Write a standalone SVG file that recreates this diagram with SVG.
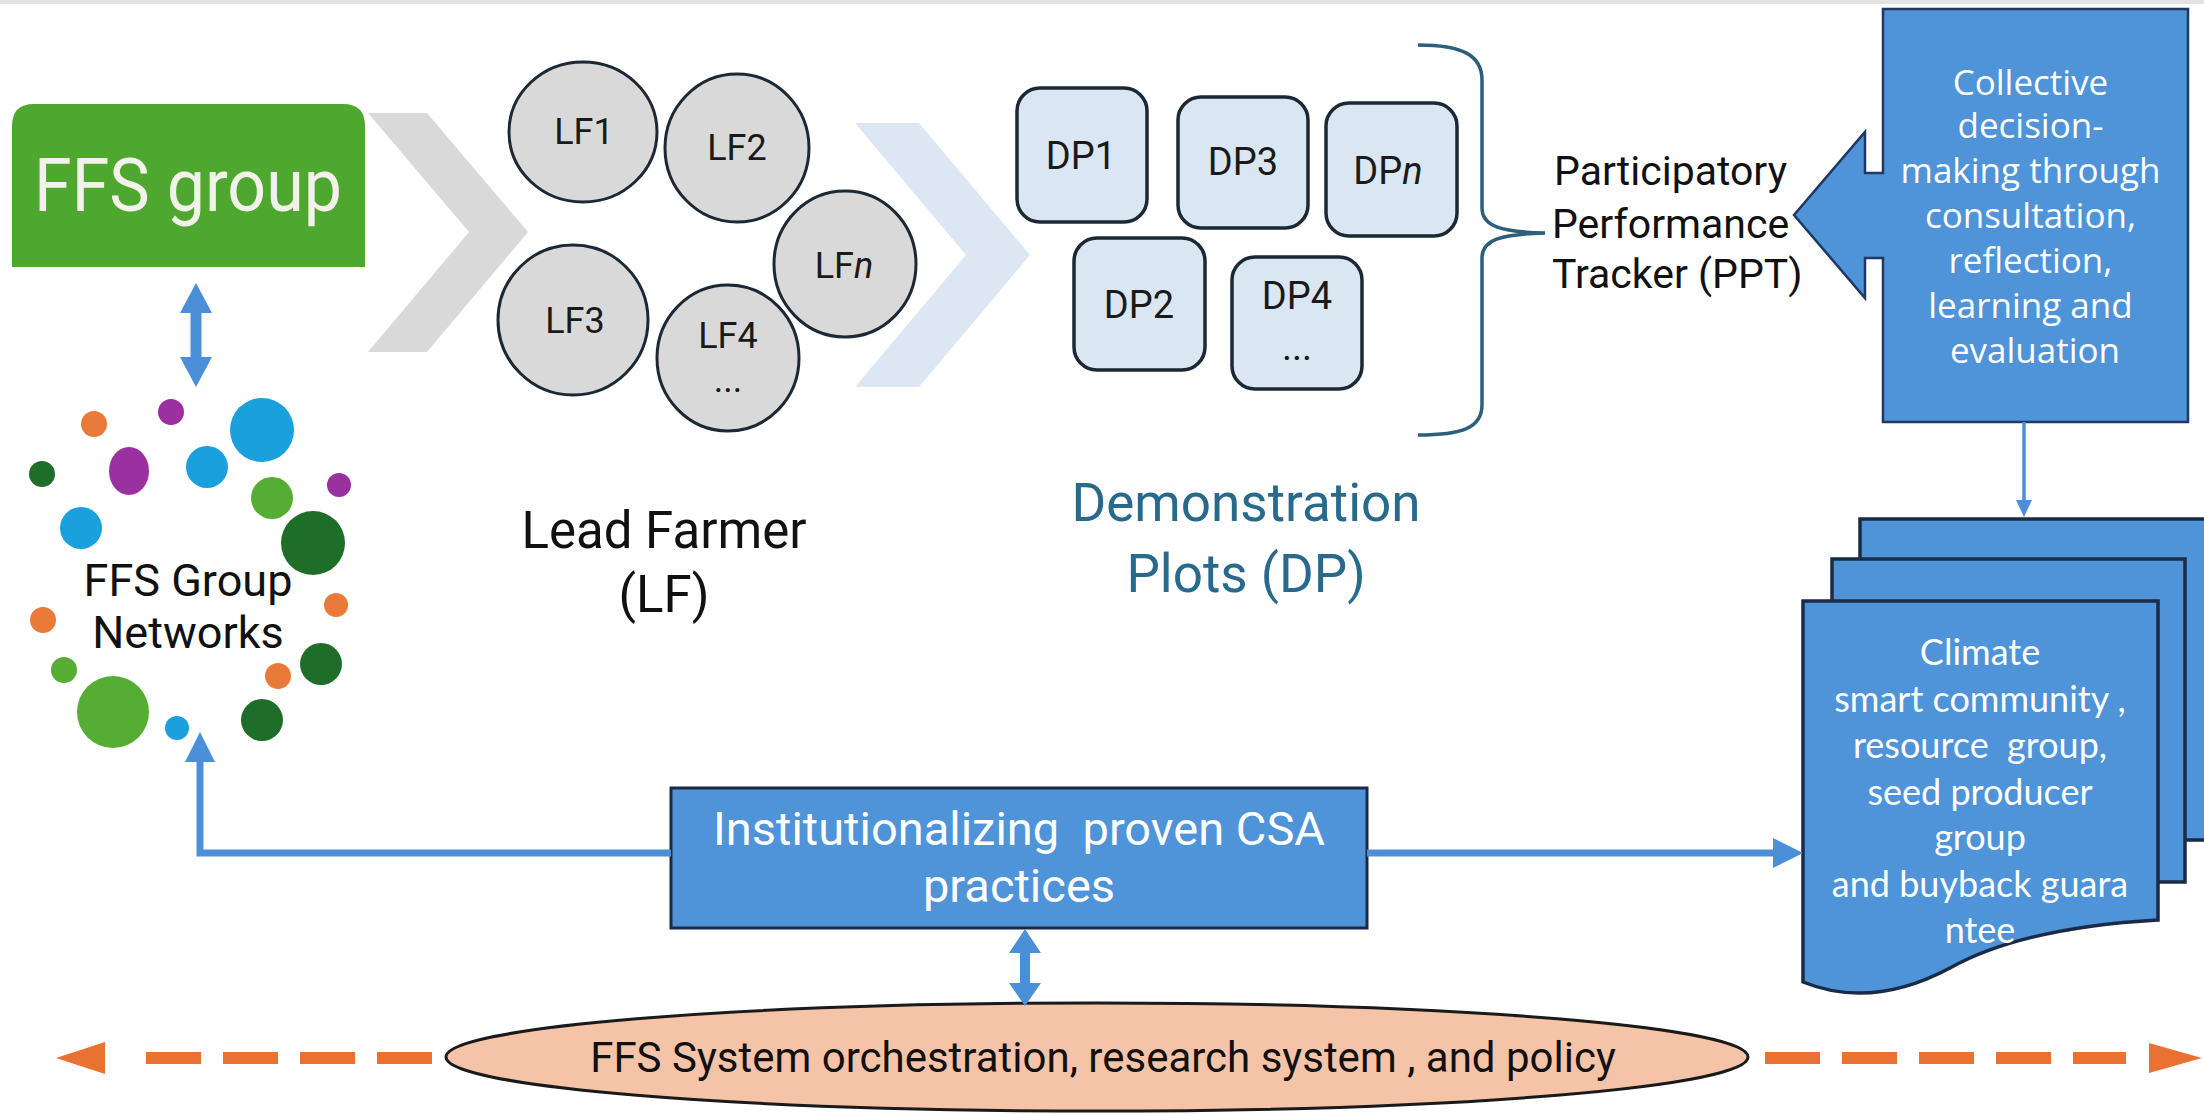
<svg xmlns="http://www.w3.org/2000/svg" width="2204" height="1114" viewBox="0 0 2204 1114">
<style>
.lf{fill:#d9d9d9;stroke:#1c2833;stroke-width:3}
.dp{fill:#dae6f2;stroke:#1c2833;stroke-width:3.5}
.rob{font-family:Roboto,"Liberation Sans",sans-serif}
.lbl{font-family:Roboto,"Liberation Sans",sans-serif;font-size:36px;fill:#1a1a1a;text-anchor:middle}
.dpl{font-family:Roboto,"Liberation Sans",sans-serif;font-size:38px;fill:#1a1a1a;text-anchor:middle}
.blue{fill:#4f93d8}
.line{fill:none;stroke:#4a8fd8;stroke-width:7}
.dash{fill:none;stroke:#e97132;stroke-width:12;stroke-dasharray:55 22}
.doc{fill:#4f93d8;stroke:#1b2b45;stroke-width:3.5}
.doct{font-family:Lato,"Open Sans",sans-serif;font-size:36px;fill:#ffffff;text-anchor:middle}
.callt{font-family:"Open Sans","Noto Sans",sans-serif;font-size:35px;fill:#ffffff;text-anchor:middle}
.nc-o{fill:#ea7a3a}.nc-p{fill:#9b30a0}.nc-b{fill:#1aa0dc}.nc-d{fill:#1e6e2a}.nc-g{fill:#56ad33}
</style>
<rect x="0" y="0" width="2204" height="1114" fill="#ffffff"/>
<rect x="0" y="0" width="2204" height="4" fill="#e3e3e3"/>

<g id="chevrons">
  <polygon points="368,113 427,113 528,232 427,352 368,352 469,232" fill="#d9d9d9"/>
  <polygon points="855,123 919,123 1030,255 919,387 855,387 966,255" fill="#dce7f3"/>
</g>

<g id="ffs-group">
  <path d="M12,267 V126 Q12,104 34,104 H343 Q365,104 365,126 V267 Z" fill="#4ea72e"/>
  <text x="188" y="211" class="rob" font-size="75" fill="#f2f2ea" text-anchor="middle" textLength="308" lengthAdjust="spacingAndGlyphs">FFS group</text>
</g>

<g id="ffs-networks">
  <circle cx="94" cy="424" r="13" class="nc-o"/>
  <circle cx="171" cy="412" r="13" class="nc-p"/>
  <circle cx="262" cy="430" r="32" class="nc-b"/>
  <circle cx="42" cy="474" r="13" class="nc-d"/>
  <ellipse cx="129" cy="471" rx="20" ry="24" class="nc-p"/>
  <circle cx="207" cy="467" r="21" class="nc-b"/>
  <circle cx="339" cy="485" r="12" class="nc-p"/>
  <circle cx="272" cy="498" r="21" class="nc-g"/>
  <circle cx="81" cy="528" r="21" class="nc-b"/>
  <circle cx="313" cy="543" r="32" class="nc-d"/>
  <circle cx="336" cy="605" r="12" class="nc-o"/>
  <circle cx="43" cy="620" r="13" class="nc-o"/>
  <circle cx="321" cy="664" r="21" class="nc-d"/>
  <circle cx="64" cy="670" r="13" class="nc-g"/>
  <circle cx="278" cy="676" r="13" class="nc-o"/>
  <circle cx="113" cy="712" r="36" class="nc-g"/>
  <circle cx="177" cy="728" r="12" class="nc-b"/>
  <circle cx="262" cy="720" r="21" class="nc-d"/>
  <text x="188" y="596" class="rob" font-size="45" fill="#111111" text-anchor="middle">FFS Group</text>
  <text x="188" y="648" class="rob" font-size="45" fill="#111111" text-anchor="middle">Networks</text>
</g>

<g id="lead-farmers">
  <ellipse cx="583" cy="132" rx="74" ry="70" class="lf"/>
  <ellipse cx="737" cy="148" rx="72" ry="74" class="lf"/>
  <ellipse cx="573" cy="320" rx="75" ry="75" class="lf"/>
  <ellipse cx="728" cy="358" rx="71" ry="73" class="lf"/>
  <ellipse cx="845" cy="264" rx="71" ry="73" class="lf"/>
  <text x="584" y="144" class="lbl">LF1</text>
  <text x="737" y="160" class="lbl">LF2</text>
  <text x="575" y="333" class="lbl">LF3</text>
  <text x="728" y="348" class="lbl">LF4</text>
  <text x="728" y="392" class="lbl">...</text>
  <text x="844" y="278" class="lbl">LF<tspan font-style="italic">n</tspan></text>
  <text x="664" y="548" class="rob" font-size="51" fill="#111111" text-anchor="middle">Lead Farmer</text>
  <text x="664" y="612" class="rob" font-size="51" fill="#111111" text-anchor="middle">(LF)</text>
</g>

<g id="demo-plots">
  <rect x="1017" y="88" width="130" height="134" rx="23" class="dp"/>
  <rect x="1178" y="97" width="130" height="131" rx="23" class="dp"/>
  <rect x="1326" y="103" width="131" height="133" rx="23" class="dp"/>
  <rect x="1074" y="238" width="131" height="132" rx="23" class="dp"/>
  <rect x="1232" y="257" width="130" height="132" rx="23" class="dp"/>
  <text x="1081" y="169" class="dpl">DP1</text>
  <text x="1243" y="175" class="dpl">DP3</text>
  <text x="1388" y="184" class="dpl">DP<tspan font-style="italic">n</tspan></text>
  <text x="1139" y="318" class="dpl">DP2</text>
  <text x="1297" y="309" class="dpl">DP4</text>
  <text x="1297" y="360" class="dpl">...</text>
  <text x="1246" y="521" class="rob" font-size="53" fill="#286a8c" text-anchor="middle">Demonstration</text>
  <text x="1246" y="592" class="rob" font-size="53" fill="#286a8c" text-anchor="middle">Plots (DP)</text>
</g>

<g id="ppt">
  <path d="M1418,45 C1462,45 1482,55 1482,80 V208 C1482,226 1500,232 1545,233 C1500,234 1482,240 1482,258 V405 C1482,428 1462,435 1418,435" fill="none" stroke="#2c5f7c" stroke-width="3.5"/>
  <text x="1554" y="185" class="rob" font-size="41" fill="#111111">Participatory</text>
  <text x="1552" y="238" class="rob" font-size="41" fill="#111111">Performance</text>
  <text x="1552" y="288" class="rob" font-size="41" fill="#111111">Tracker (PPT)</text>
</g>

<g id="collective-callout">
  <path d="M1883,9 H2188 V422 H1883 V258 H1865 V298 L1794,215 L1865,132 V173 H1883 Z" class="blue" stroke="#1f3864" stroke-width="2.5"/>
  <text class="callt">
    <tspan x="2035" y="95">Collective</tspan>
    <tspan x="2035" y="138">decision-</tspan>
    <tspan x="2035" y="183">making through</tspan>
    <tspan x="2035" y="228">consultation,</tspan>
    <tspan x="2035" y="273">reflection,</tspan>
    <tspan x="2035" y="318">learning and</tspan>
    <tspan x="2035" y="363">evaluation</tspan>
  </text>
</g>

<g id="community-docs">
  <rect x="1860" y="519" width="360" height="321" class="doc"/>
  <rect x="1832" y="559" width="353" height="323" class="doc"/>
  <path d="M1803,601 H2158 V920 C2070,925 2000,940 1950,968 C1905,992 1855,1003 1803,982 Z" class="doc"/>
  <text class="doct" xml:space="preserve"><tspan x="1980" y="665">Climate</tspan><tspan x="1980" y="712">smart community ,</tspan><tspan x="1980" y="758">resource  group,</tspan><tspan x="1980" y="805">seed producer</tspan><tspan x="1980" y="850">group</tspan><tspan x="1980" y="897">and buyback guara</tspan><tspan x="1980" y="943">ntee</tspan></text>
</g>

<g id="institutionalizing">
  <rect x="671" y="788" width="696" height="140" class="blue" stroke="#1a2a44" stroke-width="3"/>
  <text x="1019" y="845" class="rob" font-size="47" fill="#ffffff" text-anchor="middle" xml:space="preserve">Institutionalizing  proven CSA</text>
  <text x="1019" y="902" class="rob" font-size="47" fill="#ffffff" text-anchor="middle">practices</text>
</g>

<g id="ffs-system">
  <ellipse cx="1097" cy="1057" rx="651" ry="54" fill="#f5c4a8" stroke="#1a1a1a" stroke-width="3"/>
  <text x="1103" y="1072" class="rob" font-size="42" fill="#111111" text-anchor="middle">FFS System orchestration, research system , and policy</text>
</g>

<g id="connectors">
  <polygon points="196,283 212,313 201.5,313 201.5,357 212,357 196,387 180,357 190.5,357 190.5,313 180,313" fill="#4a8fd8"/>
  <polyline points="671,853 200,853 200,758" class="line"/>
  <polygon points="200,732 185,762 215,762" fill="#4a8fd8"/>
  <line x1="1367" y1="853" x2="1776" y2="853" class="line"/>
  <polygon points="1803,853 1773,838 1773,868" fill="#4a8fd8"/>
  <line x1="2024" y1="422" x2="2024" y2="503" stroke="#4a8fd8" stroke-width="3.5"/>
  <polygon points="2024,517 2016,500 2032,500" fill="#4a8fd8"/>
  <polygon points="1025,929 1041,953 1030,953 1030,983 1041,983 1025,1006 1009,983 1020,983 1020,953 1009,953" fill="#4a8fd8"/>
  <line x1="432" y1="1058" x2="146" y2="1058" class="dash"/>
  <polygon points="56,1058 105,1042 105,1074" fill="#e97132"/>
  <line x1="1765" y1="1058" x2="2126" y2="1058" class="dash"/>
  <polygon points="2202,1058 2149,1043 2149,1073" fill="#e97132"/>
</g>
</svg>
